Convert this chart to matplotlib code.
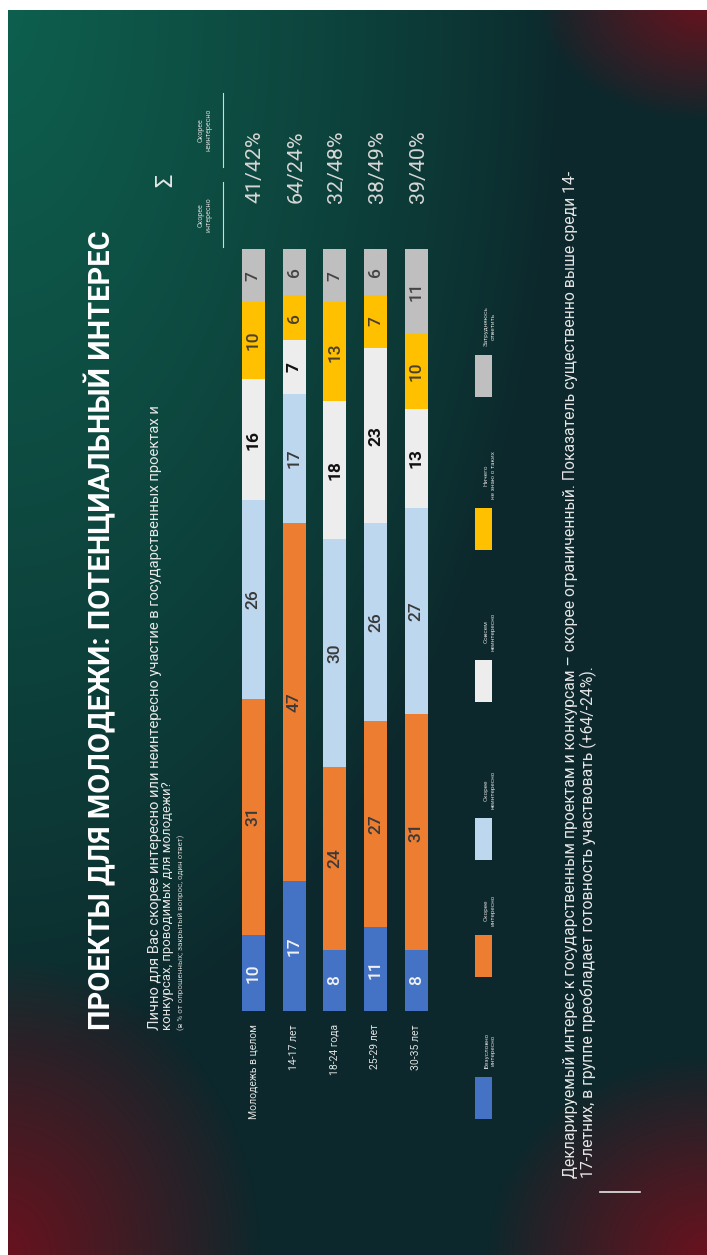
import numpy as np
import matplotlib.pyplot as plt

plt.rcParams['font.family'] = ['Roboto', 'DejaVu Sans']

# data
groups = ['Молодежь в целом', '14-17 лет', '18-24 года', '25-29 лет', '30-35 лет']
answers = ['Безусловно\nинтересно', 'Скорее\nинтересно', 'Скорее\nнеинтересно',
           'Совсем\nнеинтересно', 'Ничего\nне знаю о таких', 'Затрудняюсь\nответить']
definitely = [10, 17, 8, 11, 8]
rather_yes = [31, 47, 24, 27, 31]
rather_no = [26, 17, 30, 26, 27]
not_at_all = [16, 7, 18, 23, 13]
never_heard = [10, 6, 13, 7, 10]
hard_to_say = [7, 6, 7, 6, 11]

series = [definitely, rather_yes, rather_no, not_at_all, never_heard, hard_to_say]
colors = ['#4472c4', '#ed7d31', '#bdd7ee', '#ededed', '#ffc000', '#bfbfbf']
txt_colors = ['#f2f2f2', '#3a3a3a', '#3a3a3a', '#111111', '#4a4030', '#444444']

title = 'ПРОЕКТЫ ДЛЯ МОЛОДЕЖИ: ПОТЕНЦИАЛЬНЫЙ ИНТЕРЕС'
question = ['Лично для Вас скорее интересно или неинтересно участие в государственных проектах и',
            'конкурсах, проводимых для молодежи?']
note = '(в % от опрошенных; закрытый вопрос, один ответ)'
footer = ['Декларируемый интерес к государственным проектам и конкурсам – скорее ограниченный. Показатель существенно выше среди 14-',
          '17-летних, в группе преобладает готовность участвовать (+64/-24%).']

W, H = 707, 1255
fig = plt.figure(figsize=(W / 100, H / 100), dpi=100)

# background gradient (slide is rotated)
bg = fig.add_axes([0, 0, 1, 1])
xx, yy = np.meshgrid(np.arange(W), np.arange(H))
base = np.array([12, 40, 44]) / 255
green = np.array([14, 96, 78]) / 255
red = np.array([105, 18, 30]) / 255
wg = np.clip(1 - np.sqrt((xx / 560) ** 2 + (yy / 1050) ** 2), 0, 1) ** 0.8
img = base * (1 - wg[..., None]) + green * wg[..., None]
wr = np.zeros_like(wg)
for cx, cy, rx, ry in [(W, 0, 170, 120), (0, H, 260, 300), (W, H, 220, 200)]:
    d = np.sqrt(((xx - cx) / rx) ** 2 + ((yy - cy) / ry) ** 2)
    wr = np.maximum(wr, np.clip(1 - d, 0, 1) ** 0.9)
img = img * (1 - wr[..., None]) + red * wr[..., None]
img[:10, :] = 1
img[:, :8] = 1
bg.imshow(img, extent=[0, W, H, 0], aspect='auto')
bg.set_xlim(0, W)
bg.set_ylim(H, 0)
bg.axis('off')

# stacked bars
x0, slot = 233, 40.7
y_top, y_bot = 249, 1011
ax = fig.add_axes([x0 / W, (H - y_bot) / H, 5 * slot / W, (y_bot - y_top) / H])
ax.patch.set_alpha(0)
pos = np.arange(len(groups))
bottom = np.zeros(len(groups))
for vals, c, tc in zip(series, colors, txt_colors):
    vals = np.array(vals)
    ax.bar(pos, vals, bottom=bottom, width=0.565, color=c, edgecolor='none')
    for p, v, b in zip(pos, vals, bottom):
        ax.text(p, b + v / 2, str(v), rotation=90, ha='center', va='center',
                fontsize=12.5, color=tc, fontweight='bold' if tc == '#111111' else 'medium')
    bottom += vals
ax.set_xlim(-0.5, 4.5)
ax.set_ylim(0, 100)
ax.axis('off')

centers = [x0 + slot * (i + 0.5) for i in range(len(groups))]


def fit(t, length):
    r = fig.canvas.get_renderer()
    h = t.get_window_extent(r).height
    t.set_fontsize(t.get_fontsize() * length / h)


# texts
t = bg.text(100, 1030, title, rotation=90, ha='center', va='bottom',
            color='white', fontsize=22, fontweight='bold')
fit(t, 795)
t = bg.text(155, 1030, question[0], rotation=90, ha='center', va='bottom', color='#e6e6e6', fontsize=9)
fit(t, 627)
t = bg.text(168, 1030, question[1], rotation=90, ha='center', va='bottom', color='#e6e6e6', fontsize=9)
fit(t, 250)
t = bg.text(181, 1030, note, rotation=90, ha='center', va='bottom', color='#cfcfcf', fontsize=5)
fit(t, 196)

for cx, g in zip(centers, groups):
    bg.text(cx, 1024, g, rotation=90, ha='center', va='top', color='#e0e0e0', fontsize=7.5)

# sums
bg.text(166, 180, 'Σ', rotation=90, ha='center', va='center', color='#e6e6e6', fontsize=17)
bg.text(205, 215, 'Скорее\nинтересно', rotation=90, ha='center', va='center',
        color='#d8d8d8', fontsize=5, linespacing=1.3)
bg.text(205, 130, 'Скорее\nнеинтересно', rotation=90, ha='center', va='center',
        color='#d8d8d8', fontsize=5, linespacing=1.3)
bg.plot([223, 223], [182, 247], color='#d8d8d8', lw=0.8)
bg.plot([223, 223], [93, 167], color='#d8d8d8', lw=0.8)
for cx, a, b, c, d in zip(centers, definitely, rather_yes, rather_no, not_at_all):
    t = bg.text(cx + 2, 167, f'{a + b}/{c + d}%', rotation=90, ha='center', va='center',
                color='#d6d6d6', fontsize=14)
    fit(t, 73)

# legend
sq_y = [1098, 956, 839, 681, 529, 376]
for y, c, lab in zip(sq_y, colors, answers):
    bg.add_patch(plt.Rectangle((475, y - 21), 17, 42, color=c, lw=0))
    bg.text(490, y - 30, lab, rotation=90, ha='center', va='bottom', color='#d0d0d0',
            fontsize=4.6, linespacing=1.5)

# footer
t = bg.text(571, 1178, footer[0], rotation=90, ha='center', va='bottom', color='#e6e6e6', fontsize=8)
fit(t, 1010)
t2 = bg.text(588, 1178, footer[1], rotation=90, ha='center', va='bottom', color='#e6e6e6',
             fontsize=t.get_fontsize())
bg.plot([600, 640], [1192, 1192], color='#e6e6e6', lw=1.2)

fig.savefig('out.png', dpi=100)
